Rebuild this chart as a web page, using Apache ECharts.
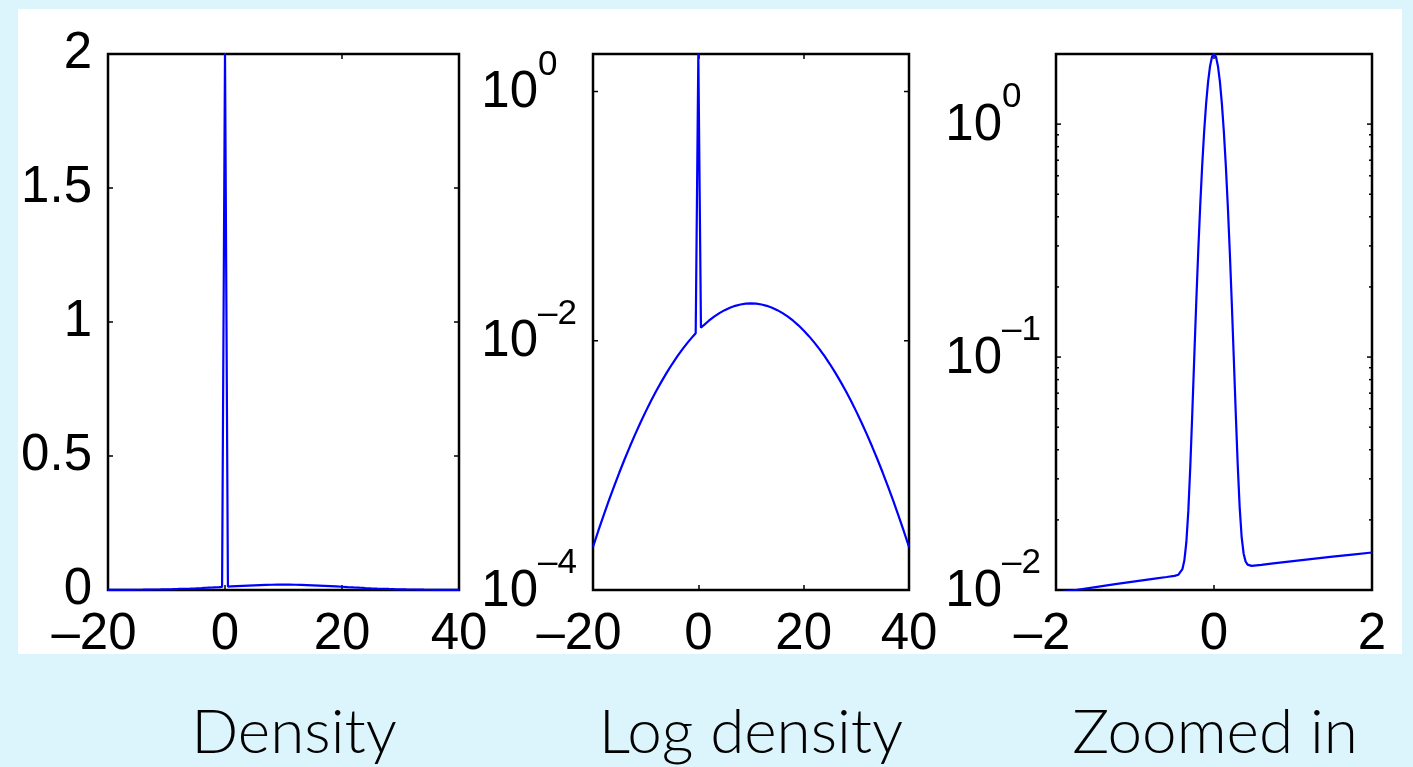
<!DOCTYPE html>
<html>
<head>
<meta charset="utf-8">
<title>Density, log density and zoomed view</title>
<script src="https://cdn.jsdelivr.net/npm/echarts@6/dist/echarts.min.js"></script>
<style>
  html, body { margin: 0; padding: 0; background: #dcf5fc; }
  #chart { width: 1413px; height: 767px; }
</style>
</head>
<body>
<div id="chart"></div>
<script>
// Mixture density sampled over the wide range (used by the first two panels)
const wideX = [
  -20, -19, -18, -17, -16, -15, -14, -13, -12, -11, -10, -9, -8, -7, -6, -5, -4, -3, -2, -1,
  -0.5, 0, 0.5,
  1, 2, 3, 4, 5, 6, 7, 8, 9, 10, 11, 12, 13, 14, 15, 16, 17, 18, 19, 20,
  21, 22, 23, 24, 25, 26, 27, 28, 29, 30, 31, 32, 33, 34, 35, 36, 37, 38, 39, 40
];
const wideDensity = [
  0.0002216, 0.0002976, 0.0003958, 0.0005210, 0.0006791, 0.0008764, 0.001120, 0.001416,
  0.001774, 0.002199, 0.002700, 0.003281, 0.003948, 0.004702, 0.005546, 0.006476,
  0.007486, 0.008569, 0.009709, 0.01089,
  0.01150, 2.0068, 0.01270,
  0.01330, 0.01448, 0.01561, 0.01666, 0.01760, 0.01841, 0.01907, 0.01955, 0.01985, 0.01995,
  0.01985, 0.01955, 0.01907, 0.01841, 0.01760, 0.01666, 0.01561, 0.01448, 0.01330, 0.01210,
  0.01089, 0.009709, 0.008569, 0.007486, 0.006476, 0.005546, 0.004702, 0.003948, 0.003281,
  0.002700, 0.002199, 0.001774, 0.001416, 0.001120, 0.0008764, 0.0006791, 0.0005210,
  0.0003958, 0.0002976, 0.0002216
];

// Same density around the spike at zero
const zoomX = [
  -2, -1.75, -1.5, -1.25, -1, -0.75, -0.6,
  -0.5, -0.475, -0.45, -0.425, -0.4, -0.375, -0.35, -0.325, -0.3, -0.275, -0.25, -0.225,
  -0.2, -0.175, -0.15, -0.125, -0.1, -0.075, -0.05, -0.025, 0,
  0.025, 0.05, 0.075, 0.1, 0.125, 0.15, 0.175, 0.2, 0.225, 0.25, 0.275, 0.3, 0.325,
  0.35, 0.375, 0.4, 0.425, 0.45, 0.475, 0.5,
  0.6, 0.75, 1, 1.25, 1.5, 1.75, 2
];
const zoomDensity = [
  0.009709, 0.010002, 0.010297, 0.010594, 0.010893, 0.011193, 0.011373,
  0.011501, 0.01155, 0.011635, 0.011823, 0.012284, 0.013408, 0.016039, 0.021851, 0.033895,
  0.057234, 0.099439, 0.17053,
  0.28182, 0.44328, 0.65951, 0.92520, 1.22183, 1.51770, 1.77236, 1.94541, 2.00681,
  1.94547, 1.77248, 1.51788, 1.22207, 0.92550, 0.65987, 0.44370, 0.28230, 0.17107, 0.10004,
  0.05790, 0.034621, 0.022637,
  0.016885, 0.014315, 0.013252, 0.012851, 0.012723, 0.012698, 0.01271,
  0.012824, 0.013004, 0.013304, 0.013603, 0.013899, 0.014193, 0.014484
];

// Axis ranges and tick values
const wideRange = [-20, 40];
const wideStep = 20;
const zoomRange = [-2, 2];
const zoomStep = 2;
const linearRange = [0, 2];
const linearStep = 0.5;
const logWideRange = [0.0001, 2];
const logZoomRange = [0.01, 2];
const logWideMajor = [0.0001, 0.01, 1];
const logZoomMajor = [0.01, 0.1, 1];
const logZoomMinor = [
  0.02, 0.03, 0.04, 0.05, 0.06, 0.07, 0.08, 0.09,
  0.2, 0.3, 0.4, 0.5, 0.6, 0.7, 0.8, 0.9
];
const captions = ['Density', 'Log density', 'Zoomed in'];
const captionCentres = [294, 751, 1215];

const FONT = '"Liberation Sans", Arial, Helvetica, sans-serif';
const CAPTION_FONT = 'Lato, "Open Sans", sans-serif';
const LABEL_SIZE = 51;
const SUP_SIZE = 35;
const DASH = '\u2013';

const grids = [
  { left: 108, top: 54, width: 351, height: 536 },
  { left: 593, top: 54, width: 316, height: 536 },
  { left: 1056, top: 54, width: 316, height: 536 }
];

// x labels: the number is centred on its tick, the minus sign hangs to the left
function xLabel(v) {
  if (v < 0) return '{n|' + DASH + (-v) + '}{p| }';
  return '{n|' + v + '}';
}
const xRich = {
  n: { fontSize: LABEL_SIZE, fontFamily: FONT, color: '#000' },
  p: { fontSize: LABEL_SIZE, fontFamily: FONT, width: 28 }
};

// power-of-ten labels with a raised exponent
function logLabel(v, evenOnly) {
  const e = Math.log10(v);
  const r = Math.round(e);
  if (Math.abs(e - r) > 1e-6) return '';
  if (evenOnly && r % 2 !== 0) return '';
  const exp = r < 0 ? DASH + (-r) : String(r);
  return '{b|10}{s|' + exp + '}';
}
const logRich = {
  b: { fontSize: LABEL_SIZE, fontFamily: FONT, color: '#000', align: 'left',
       verticalAlign: 'top', lineHeight: 71, padding: [20, 0, 0, 0] },
  s: { fontSize: SUP_SIZE, fontFamily: FONT, color: '#000', align: 'left', width: 40,
       verticalAlign: 'top', lineHeight: 88, padding: [0, 0, 53, 0] }
};

const tickStyle = { show: true, inside: true, length: 5, lineStyle: { color: '#000', width: 1.5 } };
const hiddenLine = { show: false, onZero: false };

function xAxes(gi, range, step) {
  const base = {
    type: 'value', gridIndex: gi, min: range[0], max: range[1], interval: step,
    axisLine: hiddenLine, splitLine: { show: false }, axisTick: tickStyle
  };
  return [
    Object.assign({}, base, {
      position: 'bottom',
      axisLabel: { margin: 19, formatter: xLabel, rich: xRich, fontSize: LABEL_SIZE, fontFamily: FONT, color: '#000' }
    }),
    Object.assign({}, base, { position: 'top', axisLabel: { show: false } })
  ];
}

function linearYAxes(gi) {
  const base = {
    type: 'value', gridIndex: gi, min: linearRange[0], max: linearRange[1], interval: linearStep,
    axisLine: hiddenLine, splitLine: { show: false }, axisTick: tickStyle
  };
  return [
    Object.assign({}, base, {
      position: 'left',
      axisLabel: { margin: 16, fontSize: LABEL_SIZE, fontFamily: FONT, color: '#000',
                   formatter: v => String(v) }
    }),
    Object.assign({}, base, { position: 'right', axisLabel: { show: false } })
  ];
}

function logYAxes(gi, range, evenOnly, margin) {
  const base = {
    type: 'log', logBase: 10, gridIndex: gi, min: range[0], max: range[1],
    axisLine: hiddenLine, splitLine: { show: false }, axisTick: { show: false }
  };
  return [
    Object.assign({}, base, {
      position: 'left',
      axisLabel: { margin: margin, formatter: v => logLabel(v, evenOnly), rich: logRich,
                   fontSize: LABEL_SIZE, fontFamily: FONT, color: '#000' }
    }),
    Object.assign({}, base, { position: 'right', axisLabel: { show: false } })
  ];
}

// inward tick marks on both sides of a log axis, drawn at the given values
function tickSeries(xi, yi, values, len) {
  return {
    type: 'custom', xAxisIndex: xi, yAxisIndex: yi, silent: true, z: 3,
    dimensions: ['v'], encode: { y: 0 },
    data: values.map(v => [v]),
    renderItem: function (params, api) {
      const cs = params.coordSys;
      const y = api.coord([0, api.value(0)])[1];
      const st = { stroke: '#000', lineWidth: 1.5 };
      return {
        type: 'group',
        children: [
          { type: 'line', shape: { x1: cs.x, y1: y, x2: cs.x + len, y2: y }, style: st },
          { type: 'line', shape: { x1: cs.x + cs.width - len, y1: y, x2: cs.x + cs.width, y2: y }, style: st }
        ]
      };
    }
  };
}

function pairs(xs, ys) { return xs.map((x, i) => [x, ys[i]]); }

const lineStyle = { color: '#0000ff', width: 2.2 };
function curve(xi, yi, xs, ys) {
  return {
    type: 'line', xAxisIndex: xi, yAxisIndex: yi, data: pairs(xs, ys),
    showSymbol: false, symbol: 'none', clip: true, lineStyle: lineStyle, z: 4, silent: true
  };
}

const chart = echarts.init(document.getElementById('chart'), null, { renderer: 'canvas' });
chart.setOption({
  backgroundColor: '#dcf5fc',
  animation: false,
  graphic: [
    { type: 'rect', z: -100, silent: true,
      shape: { x: 18, y: 9, width: 1384, height: 645 }, style: { fill: '#ffffff' } }
  ].concat(captions.map((t, i) => ({
    type: 'text', silent: true,
    x: captionCentres[i], y: 733,
    style: { text: t, fontSize: 62, fontWeight: 300, fontFamily: CAPTION_FONT, fill: '#000',
             align: 'center', verticalAlign: 'middle' }
  }))),
  grid: grids.map(g => Object.assign({ show: true, borderColor: '#000', borderWidth: 2.5,
                                        backgroundColor: 'transparent' }, g)),
  xAxis: [].concat(
    xAxes(0, wideRange, wideStep),
    xAxes(1, wideRange, wideStep),
    xAxes(2, zoomRange, zoomStep)
  ),
  yAxis: [].concat(
    linearYAxes(0),
    logYAxes(1, logWideRange, true, 15),
    logYAxes(2, logZoomRange, false, 14)
  ),
  series: [
    curve(0, 0, wideX, wideDensity),
    curve(2, 2, wideX, wideDensity),
    curve(4, 4, zoomX, zoomDensity),
    tickSeries(2, 2, logWideMajor, 5),
    tickSeries(4, 4, logZoomMajor, 5),
    tickSeries(4, 4, logZoomMinor, 3)
  ]
});
</script>
</body>
</html>
